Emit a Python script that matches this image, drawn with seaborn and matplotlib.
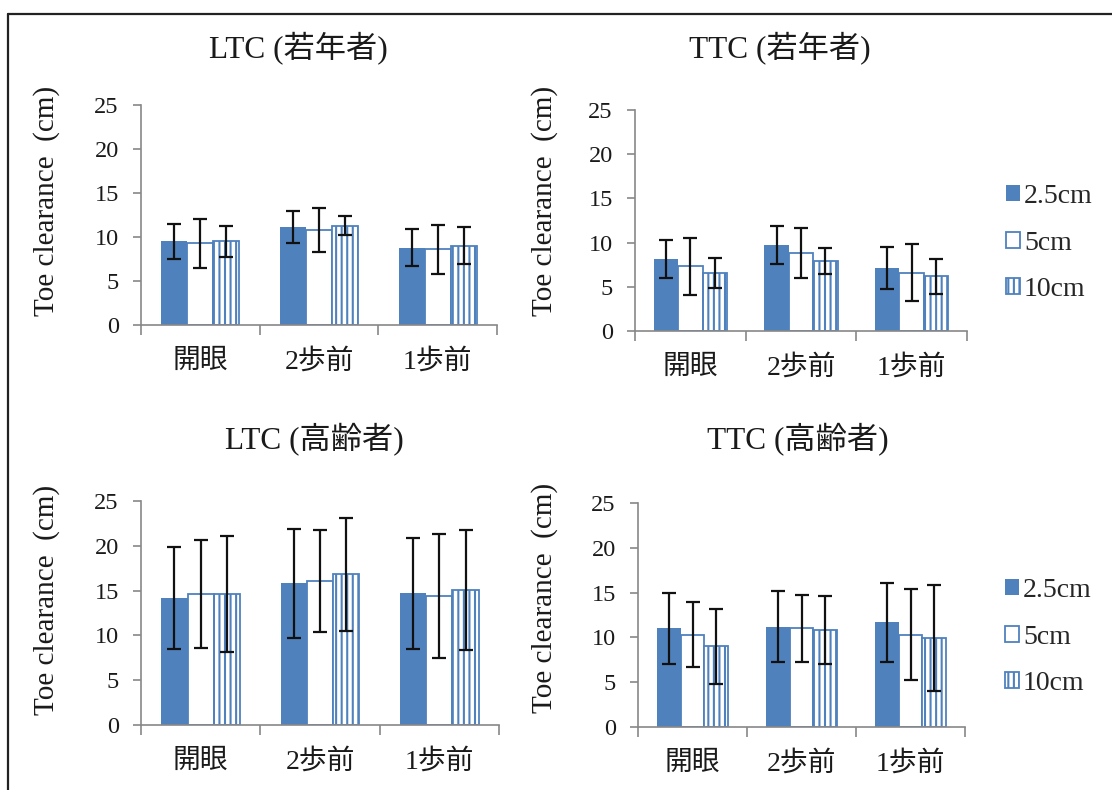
import numpy as np
import pandas as pd
import matplotlib
matplotlib.use("Agg")
import matplotlib.pyplot as plt
from matplotlib.lines import Line2D
from matplotlib.patches import Patch
import seaborn as sns

# ---------------- data ----------------
categories = ['開眼', '2歩前', '1歩前']
heights = ['2.5cm', '5cm', '10cm']

ltc_young_mean = {'2.5cm': [9.5, 11.1, 8.8], '5cm': [9.3, 10.8, 8.6], '10cm': [9.5, 11.3, 9.0]}
ltc_young_sd = {'2.5cm': [2.0, 1.8, 2.1], '5cm': [2.8, 2.5, 2.75], '10cm': [1.75, 1.1, 2.1]}

ttc_young_mean = {'2.5cm': [8.2, 9.7, 7.1], '5cm': [7.3, 8.8, 6.6], '10cm': [6.6, 7.9, 6.2]}
ttc_young_sd = {'2.5cm': [2.15, 2.15, 2.4], '5cm': [3.2, 2.8, 3.2], '10cm': [1.7, 1.45, 2.0]}

ltc_old_mean = {'2.5cm': [14.2, 15.8, 14.7], '5cm': [14.6, 16.1, 14.4], '10cm': [14.6, 16.8, 15.1]}
ltc_old_sd = {'2.5cm': [5.7, 6.1, 6.2], '5cm': [6.0, 5.7, 6.9], '10cm': [6.5, 6.3, 6.7]}

ttc_old_mean = {'2.5cm': [11.0, 11.2, 11.7], '5cm': [10.3, 11.0, 10.3], '10cm': [9.0, 10.8, 9.9]}
ttc_old_sd = {'2.5cm': [4.0, 4.0, 4.4], '5cm': [3.6, 3.7, 5.1], '10cm': [4.2, 3.8, 5.9]}

titles = ['LTC (若年者)', 'TTC (若年者)', 'LTC (高齢者)', 'TTC (高齢者)']
y_label = 'Toe clearance  (cm)'
y_ticks = [0, 5, 10, 15, 20, 25]

# ---------------- style ----------------
sns.set_theme(style='white')
plt.rcParams['font.family'] = ['Liberation Serif', 'Noto Sans CJK JP']
plt.rcParams['hatch.linewidth'] = 1.5
plt.rcParams['axes.unicode_minus'] = False

BLUE = '#4F81BD'
GRAY = '#888888'
TXT = '#1a1a1a'
W, H = 1112, 790

fig = plt.figure(figsize=(W / 100, H / 100), dpi=100)
fig.patch.set_facecolor('white')

# axes rectangles in pixels (left, top, right, bottom)
rects_px = [(141, 105, 497, 325), (635, 110, 967, 331),
            (141, 501, 499, 725), (638, 503, 965, 727)]
title_px = [(298, 48), (780, 48), (314, 440), (798, 440)]
ylabel_px = [(47, 201), (545, 201), (47, 600), (545, 598)]
legend_px = {1: (1006, 243), 3: (1005, 637)}

panels = [(ltc_young_mean, ltc_young_sd), (ttc_young_mean, ttc_young_sd),
          (ltc_old_mean, ltc_old_sd), (ttc_old_mean, ttc_old_sd)]

for i, ((means, sds), (l, t, r, b)) in enumerate(zip(panels, rects_px)):
    ax = fig.add_axes([l / W, 1 - b / H, (r - l) / W, (b - t) / H])
    rows = []
    for h in heights:
        for c, v in zip(categories, means[h]):
            rows.append({'cond': c, 'height': h, 'value': v})
    df = pd.DataFrame(rows)
    sns.barplot(data=df, x='cond', y='value', hue='height', order=categories,
                hue_order=heights, palette=[BLUE, 'white', 'white'],
                errorbar=None, width=0.66, gap=0, saturation=1, ax=ax,
                legend=False)
    for k, (cont, h) in enumerate(zip(ax.containers, heights)):
        for bar, sd in zip(cont, sds[h]):
            if k == 0:
                bar.set_facecolor(BLUE)
                bar.set_edgecolor(BLUE)
                bar.set_linewidth(0)
            else:
                bar.set_facecolor('white')
                bar.set_edgecolor(BLUE)
                bar.set_linewidth(1.3)
                if k == 2:
                    bar.set_hatch('|||')
            xc = bar.get_x() + bar.get_width() / 2
            ax.errorbar(xc, bar.get_height(), yerr=sd, fmt='none',
                        ecolor='#111111', elinewidth=1.6, capsize=4.7,
                        capthick=1.6, zorder=5)

    ax.set_ylim(0, 25)
    ax.set_xlim(-0.5, 2.5)
    ax.set_yticks(y_ticks)
    ax.set_xticks([-0.5, 0.5, 1.5, 2.5], minor=True)
    ax.set_xlabel('')
    ax.set_ylabel('')
    for s in ['top', 'right']:
        ax.spines[s].set_visible(False)
    for s in ['left', 'bottom']:
        ax.spines[s].set_color(GRAY)
        ax.spines[s].set_linewidth(1.2)
    ax.tick_params(axis='y', which='major', length=6, width=1.2, color=GRAY,
                   direction='out', left=True, labelsize=17.5, pad=10,
                   labelcolor=TXT)
    ax.tick_params(axis='x', which='major', length=0, labelsize=20, pad=17,
                   labelcolor=TXT)
    ax.tick_params(axis='x', which='minor', length=7, width=1.2, color=GRAY,
                   direction='out', bottom=True)
    ax.grid(False)
    ax.set_facecolor('white')

    tx, ty = title_px[i]
    fig.text(tx / W, 1 - ty / H, titles[i], ha='center', va='center',
             fontsize=22.5, color=TXT)
    lx, ly = ylabel_px[i]
    fig.text(lx / W, 1 - ly / H, y_label, ha='center', va='center',
             rotation=90, fontsize=21, color=TXT)

    if i in legend_px:
        handles = [Patch(facecolor=BLUE, edgecolor=BLUE, linewidth=0),
                   Patch(facecolor='white', edgecolor=BLUE, linewidth=1.3),
                   Patch(facecolor='white', edgecolor=BLUE, linewidth=1.3,
                         hatch='|||')]
        gx, gy = legend_px[i]
        ax.legend(handles, heights, loc='center left',
                  bbox_to_anchor=(gx / W, 1 - gy / H),
                  bbox_transform=fig.transFigure, frameon=False,
                  fontsize=20, handlelength=0.5, handleheight=0.5,
                  handletextpad=0.15, labelspacing=0.78, borderpad=0,
                  borderaxespad=0)

# outer frame (top and left edges)
fig.add_artist(Line2D([8 / W, 1.0], [1 - 14 / H, 1 - 14 / H], color='#222222',
                      linewidth=1.6, transform=fig.transFigure))
fig.add_artist(Line2D([8 / W, 8 / W], [0, 1 - 14 / H], color='#222222',
                      linewidth=1.6, transform=fig.transFigure))

fig.savefig('out.png', dpi=100, facecolor='white')
